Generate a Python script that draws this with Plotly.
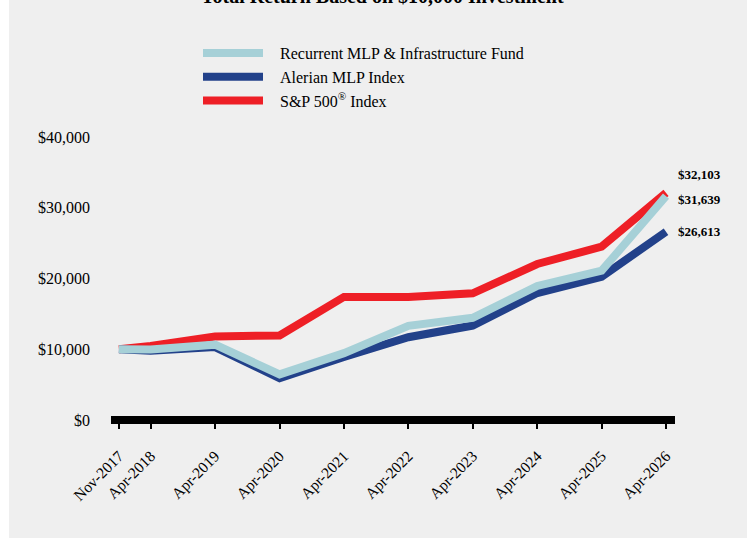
import plotly.graph_objects as go

dates = ["2017-11-01", "2018-04-30", "2019-04-30", "2020-04-30", "2021-04-30",
         "2022-04-30", "2023-04-30", "2024-04-30", "2025-04-30", "2026-04-30"]
tick_labels = ["Nov-2017", "Apr-2018", "Apr-2019", "Apr-2020", "Apr-2021",
               "Apr-2022", "Apr-2023", "Apr-2024", "Apr-2025", "Apr-2026"]
fund = [10000, 9950, 10650, 6450, 9450, 13300, 14450, 18950, 21100, 31639]
alerian = [10000, 9800, 10300, 5900, 8900, 11700, 13350, 17950, 20250, 26613]
sp500 = [10000, 10450, 11800, 11950, 17400, 17400, 17900, 22050, 24500, 32103]
y_ticks = [0, 10000, 20000, 30000, 40000]
y_tick_labels = ["$0", "$10,000", "$20,000", "$30,000", "$40,000"]

names = ["Recurrent MLP & Infrastructure Fund", "Alerian MLP Index", "S&P 500<sup>®</sup> Index"]
colors = ["#a6d0d7", "#22418a", "#ee1f26"]
series = [fund, alerian, sp500]
label_shift = [-3, 0, 18]

W, H = 747, 538
ml, mr, mt, mb = 111, 72, 137, 118
pw = W - ml - mr
ph = H - mt - mb

fig = go.Figure()
# draw S&P first, then Alerian, then the fund on top
pad = "\u00a0\u00a0\u00a0"
for i in [2, 1, 0]:
    fig.add_trace(go.Scatter(x=dates, y=series[i], name=pad + names[i], mode="lines",
                             line=dict(color=colors[i], width=8)))

serif = "Liberation Serif, Times New Roman, serif"

for i in range(3):
    fig.add_annotation(x=dates[-1], y=series[i][-1], xref="x", yref="y",
                       text=f"<b>${series[i][-1]:,}</b>", showarrow=False,
                       xanchor="left", yanchor="middle", xshift=10, yshift=label_shift[i],
                       font=dict(family=serif, size=13, color="#000000"))

fig.add_annotation(x=(382 - ml) / pw, y=1, xref="paper", yref="paper",
                   text="<b>Total Return Based on $10,000 Investment</b>", showarrow=False,
                   xanchor="center", yanchor="middle", yshift=141,
                   font=dict(family=serif, size=20, color="#000000"))

# white strip on the left edge of the page
fig.add_shape(type="rect", xref="paper", yref="paper",
              x0=(0 - ml) / pw, x1=(9 - ml) / pw, y0=-mb / ph - 0.01, y1=1 + mt / ph + 0.01,
              fillcolor="#ffffff", line=dict(width=0), layer="below")
# thick baseline at $0 (paper-referenced so it is not clipped)
fig.add_shape(type="line", xref="paper", yref="paper", x0=0, x1=1, y0=0, y1=0,
              line=dict(color="#000000", width=8), layer="above")

fig.update_layout(
    width=W, height=H,
    margin=dict(l=ml, r=mr, t=mt, b=mb),
    paper_bgcolor="#efefef", plot_bgcolor="#efefef",
    font=dict(family=serif, size=16, color="#000000"),
    showlegend=True,
    legend=dict(x=(198 - ml) / pw, y=1 + (137 - 36) / ph, xanchor="left", yanchor="top",
                traceorder="reversed", itemwidth=60, bgcolor="rgba(0,0,0,0)",
                font=dict(family=serif, size=16, color="#000000")),
    xaxis=dict(type="date", range=["2017-09-17", "2026-06-20"],
               tickvals=dates, ticktext=tick_labels, tickangle=-45,
               ticks="outside", ticklen=8, tickwidth=2, tickcolor="#000000",
               showgrid=False, zeroline=False, showline=False,
               ticklabelstandoff=12,
               tickfont=dict(family=serif, size=15.5, color="#000000")),
    yaxis=dict(range=[0, 40000], tickvals=y_ticks, ticktext=y_tick_labels,
               showgrid=False, zeroline=False, showline=False, ticks="",
               ticklabelstandoff=20,
               tickfont=dict(family=serif, size=16, color="#000000")),
)

fig.write_html("out.html", config={"displayModeBar": False},
               post_script="document.body.style.margin='0px';")
